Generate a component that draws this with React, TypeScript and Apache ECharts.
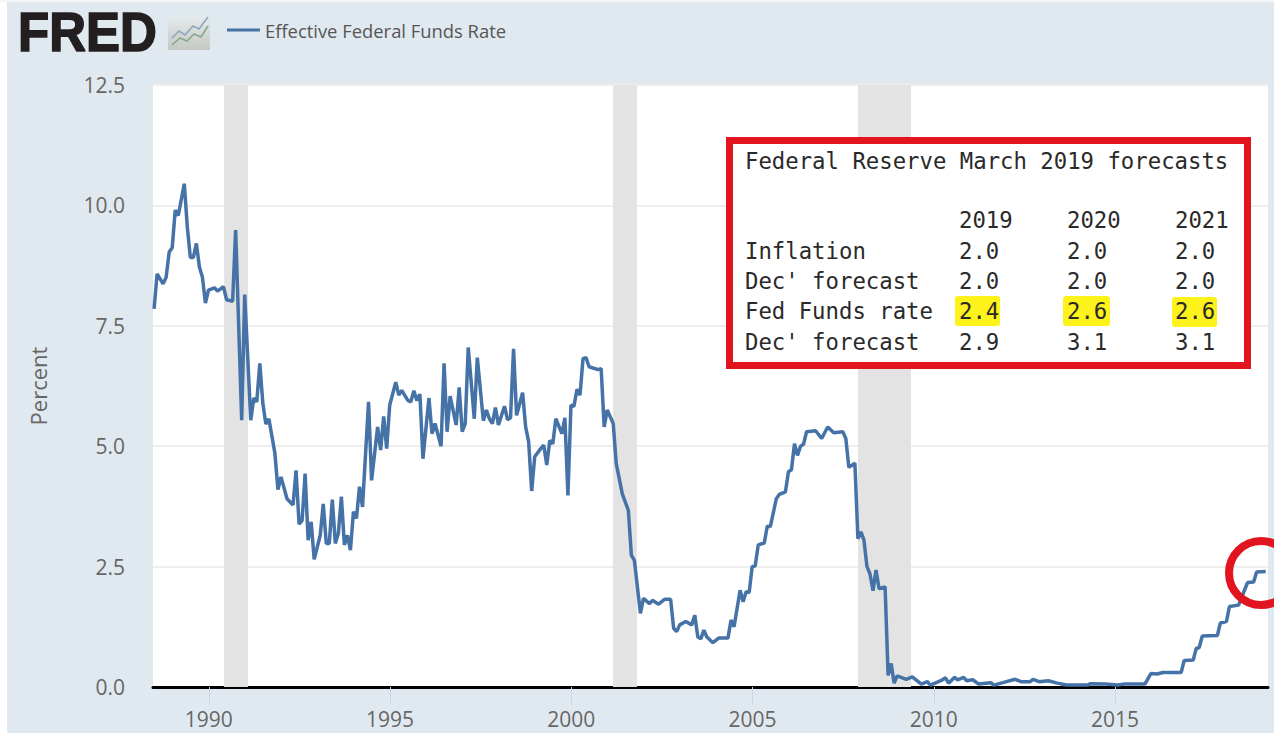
import React, { useEffect, useRef } from "react";
import * as echarts from "echarts";

const seriesName = "Effective Federal Funds Rate";
const startYear = 1988.49;
const monthOffsets = [
  0,1,3,4,5,6,7,8,10,11,12,13,14,15,16,17,18,20,21,23,24,26,27,29,30,32,33,34,35,36,37,38,40,41,42,43,44,46,47,48,49,50,51,52,53,55,56,57,58,59,60,61,62,63,64,65,66,67,68,69,71,72,74,75,76,77,78,
  80,81,82,84,85,86,87,88,89,91,92,93,95,96,97,98,100,101,102,103,104,106,107,109,110,111,112,113,114,116,117,118,119,120,122,123,124,125,126,128,129,130,131,132,133,135,136,137,138,139,140,141,142,143,144,147,148,149,150,152,153,155,157,158,159,
  161,162,164,165,167,169,171,172,173,174,176,178,179,180,181,182,183,185,187,190,191,192,194,195,196,197,198,199,200,202,203,204,206,207,209,210,211,212,213,214,215,216,219,221,223,225,228,229,230,232,233,234,235,236,237,238,239,240,242,243,244,245,246,249,
  251,254,256,257,261,262,263,265,266,268,269,271,273,277,278,281,285,287,290,291,293,296,299,302,309,310,315,319,321,328,330,332,334,340,341,344,345,346,347,352,353,355,356,359,362,364,365,368,
];
const rates = [
  7.85,8.58,8.37,8.51,9.03,9.12,9.9,9.79,10.45,9.55,8.92,8.92,9.21,8.72,8.51,7.97,8.24,8.29,8.22,8.31,8.04,8.01,9.49,5.54,8.15,5.54,6.0,5.92,6.72,5.89,5.46,5.57,4.85,4.1,4.36,4.14,3.91,3.78,4.5,3.38,3.46,4.43,3.05,3.43,2.65,3.15,3.8,2.98,2.98,3.89,2.98,3.19,3.95,2.95,3.15,2.84,3.64,3.5,4.16,3.74,5.92,4.29,5.4,4.92,5.62,4.95,5.85,
  6.33,6.06,6.16,5.95,5.92,6.15,5.95,6.08,4.74,6.0,5.26,5.47,5.0,6.72,5.3,6.04,5.44,6.22,5.3,5.47,7.05,5.57,6.84,5.53,5.75,5.57,5.47,5.8,5.44,5.83,5.55,5.59,7.02,5.64,6.11,5.4,5.09,4.07,4.78,4.95,5.02,4.61,5.12,5.05,5.57,5.26,5.59,3.98,5.85,5.83,6.18,6.06,6.82,6.84,6.65,6.59,6.61,5.4,5.75,5.47,4.64,4.01,3.67,2.74,2.63,
  1.53,1.84,1.73,1.8,1.72,1.82,1.82,1.22,1.15,1.29,1.36,1.29,1.49,1.04,1.0,1.18,1.04,0.92,1.02,1.02,1.39,1.25,2.01,1.77,1.98,1.96,2.5,2.51,2.95,2.99,3.34,3.33,3.91,4.0,4.05,4.47,4.51,5.05,4.81,5.0,5.04,5.3,5.32,5.16,5.4,5.28,5.3,5.16,4.56,4.65,3.08,3.22,3.05,2.5,2.35,2.0,2.43,2.04,2.08,0.24,0.49,0.08,0.23,0.16,
  0.21,0.06,0.11,0.04,0.15,0.19,0.08,0.2,0.15,0.2,0.13,0.15,0.06,0.09,0.04,0.09,0.16,0.11,0.11,0.16,0.11,0.13,0.08,0.04,0.04,0.07,0.06,0.04,0.06,0.06,0.28,0.27,0.3,0.3,0.55,0.56,0.8,0.82,1.06,1.07,1.33,1.36,1.67,1.7,2.17,2.18,2.39,2.4,
];
const recessions = [
  [1990.42, 1991.08],
  [2001.15, 2001.81],
  [2007.91, 2009.37],
];
const yearTicks = [1990, 1995, 2000, 2005, 2010, 2015];

const tableTitle = "Federal Reserve March 2019 forecasts";
const tableYears = ["2019", "2020", "2021"];
const tableRows = ["Inflation", "Dec' forecast", "Fed Funds rate", "Dec' forecast"];
const inflation = ["2.0", "2.0", "2.0"];
const inflationDec = ["2.0", "2.0", "2.0"];
const fedFunds = ["2.4", "2.6", "2.6"];
const fedFundsDec = ["2.9", "3.1", "3.1"];

const RED = "#e2141f";
const LINE = "#4572a7";
const LABEL = "#666666";
const MONO = "'DejaVu Sans Mono', monospace";

function monoText(text: string, x: number, y: number) {
  return {
    type: "text",
    x,
    y,
    z: 100,
    silent: true,
    style: {
      text,
      fill: "#2a2a2a",
      font: `22.3px ${MONO}`,
      verticalAlign: "middle",
    },
  };
}

export default function App() {
  const ref = useRef<HTMLDivElement>(null);
  useEffect(() => {
    document.body.style.margin = "0";
    const chart = echarts.init(ref.current!, undefined, { renderer: "svg" });
    const colX = [959, 1067, 1175];
    const rowY = [250.5, 281, 311, 342];
    const rowValues = [inflation, inflationDec, fedFunds, fedFundsDec];
    const graphic: any[] = [
      { type: "rect", z: 100, shape: { x: 0, y: 0, width: 7, height: 733 }, style: { fill: "#ffffff" }, silent: true },
      { type: "rect", z: 100, shape: { x: 0, y: 0, width: 1274, height: 2 }, style: { fill: "#f4f7fa" }, silent: true },
      // FRED logo
      {
        type: "text",
        x: 18,
        y: 4,
        scaleY: 1.08,
        z: 100,
        silent: true,
        style: {
          text: "FRED",
          fill: "#231f20",
          stroke: "#231f20",
          lineWidth: 1.5,
          font: "bold 51px 'Liberation Sans', Arial, sans-serif",
          verticalAlign: "top",
        },
      },
      {
        type: "rect",
        z: 100,
        shape: { x: 168, y: 15, width: 42, height: 35 },
        silent: true,
        style: {
          fill: new echarts.graphic.LinearGradient(0, 0, 0, 1, [
            { offset: 0, color: "#e6ebee" },
            { offset: 1, color: "#c4c9c4" },
          ]),
        },
      },
      {
        type: "polyline",
        z: 101,
        silent: true,
        shape: { points: [[172, 38], [179, 31], [185, 35], [193, 26], [199, 29], [208, 17]] },
        style: { stroke: "#8ea6bf", lineWidth: 1.6, fill: "none" },
      },
      {
        type: "polyline",
        z: 101,
        silent: true,
        shape: { points: [[172, 45], [180, 38], [187, 41], [194, 34], [201, 37], [208, 26]] },
        style: { stroke: "#8aa88a", lineWidth: 1.6, fill: "none" },
      },
      // Forecast box
      {
        type: "rect",
        z: 98,
        silent: true,
        shape: { x: 729.5, y: 140.5, width: 518, height: 225 },
        style: { fill: "#ffffff", stroke: RED, lineWidth: 7 },
      },
      { type: "rect", z: 99, silent: true, shape: { x: 955, y: 296, width: 45, height: 30, r: 3 }, style: { fill: "#fdf31a" } },
      { type: "rect", z: 99, silent: true, shape: { x: 1063, y: 296, width: 47, height: 30, r: 3 }, style: { fill: "#fdf31a" } },
      { type: "rect", z: 99, silent: true, shape: { x: 1172, y: 297, width: 45, height: 30, r: 3 }, style: { fill: "#fdf31a" } },
      monoText(tableTitle, 745, 160.5),
      ...tableYears.map((t, i) => monoText(t, colX[i], 220)),
      ...tableRows.map((t, r) => monoText(t, 745, rowY[r])),
      ...rowValues.flatMap((vals, r) => vals.map((t, i) => monoText(t, colX[i], rowY[r]))),
      // Red circle round the latest value
      {
        type: "ellipse",
        z: 100,
        silent: true,
        shape: { cx: 1261, cy: 573, rx: 32, ry: 32 },
        style: { fill: "none", stroke: RED, lineWidth: 8 },
      },
    ];
    chart.setOption({
      animation: false,
      backgroundColor: "#e1e9f0",
      textStyle: { fontFamily: "'Open Sans', sans-serif" },
      grid: {
        show: true,
        backgroundColor: "#ffffff",
        borderWidth: 0,
        left: 153,
        right: 6,
        top: 85,
        bottom: 46,
      },
      legend: {
        show: true,
        left: 222,
        top: 16,
        icon: "rect",
        itemWidth: 33,
        itemHeight: 3,
        itemGap: 7,
        data: [seriesName],
        textStyle: { color: "#555555", fontSize: 18.4, fontFamily: "'Open Sans', sans-serif" },
      },
      xAxis: {
        type: "value",
        min: 1988.46,
        max: 2019.22,
        splitLine: { show: false },
        axisLine: { show: true, onZero: true, lineStyle: { color: "#000000", width: 3 } },
        axisTick: { show: true, customValues: yearTicks, length: 18, lineStyle: { color: "#ccd6eb", width: 1 } },
        axisLabel: {
          customValues: yearTicks,
          margin: 21,
          color: LABEL,
          fontSize: 21,
          formatter: (v: number) => String(Math.round(v)),
        },
      },
      yAxis: {
        type: "value",
        min: 0,
        max: 12.5,
        interval: 2.5,
        name: "Percent",
        nameLocation: "middle",
        nameGap: 104,
        nameTextStyle: { color: LABEL, fontSize: 22 },
        axisLine: { show: false },
        axisTick: { show: false },
        splitLine: { lineStyle: { color: "#eeeeee", width: 2 } },
        axisLabel: {
          margin: 28,
          color: LABEL,
          fontSize: 21,
          formatter: (v: number) => v.toFixed(1),
        },
      },
      series: [
        {
          name: seriesName,
          type: "line",
          showSymbol: false,
          smooth: false,
          clip: false,
          lineStyle: { color: LINE, width: 3.5 },
          itemStyle: { color: LINE },
          data: monthOffsets.map((m, i) => [startYear + m / 12, rates[i]]),
          markArea: {
            silent: true,
            itemStyle: { color: "#e3e3e3" },
            data: recessions.map(([a, b]) => [{ xAxis: a }, { xAxis: b }]),
          },
        },
      ],
      graphic,
    });
    return () => chart.dispose();
  }, []);
  return <div ref={ref} style={{ width: 1274, height: 733 }} />;
}
